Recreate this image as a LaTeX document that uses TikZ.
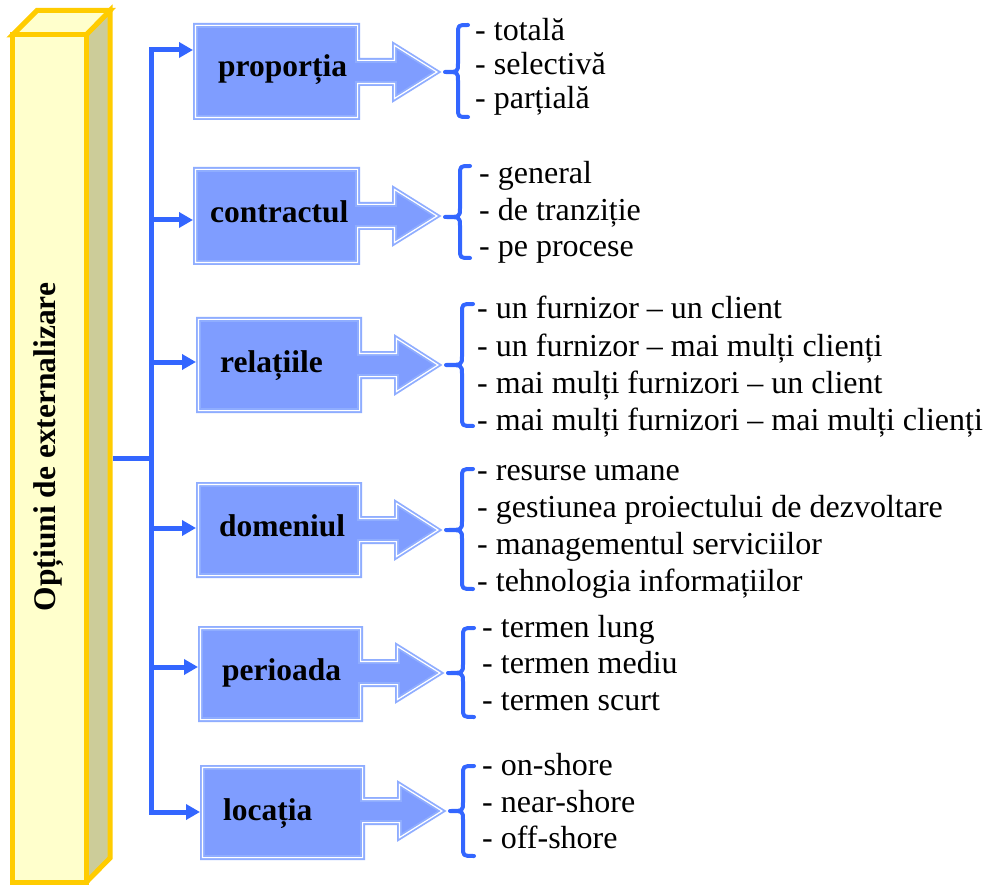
\documentclass[tikz,border=0pt]{standalone}
\usepackage{fontspec}
\setmainfont{Liberation Serif}
\usetikzlibrary{arrows.meta}

\definecolor{barline}{HTML}{FFCC00}
\definecolor{barfront}{HTML}{FFFFCC}
\definecolor{barside}{HTML}{CCCC99}
\definecolor{boxfill}{HTML}{7F9DFF}
\definecolor{boxedge}{HTML}{8FADFF}
\definecolor{linkblue}{HTML}{3366FF}

\tikzset{
  barstroke/.style={draw=barline, line width=5pt},
  calloutline/.style={fill=boxfill, draw=boxedge, double=white, double distance=1.2pt, line width=1.8pt},
  boxarea/.style={rectangle, inner sep=0pt, outer sep=0pt},
  lab/.style={font=\bfseries\fontsize{31.5}{36}\selectfont, inner sep=0pt, anchor=base west},
  item/.style={font=\fontsize{32}{36}\selectfont, inner sep=0pt, anchor=base west},
  conn/.style={draw=linkblue, line width=5pt},
  tipped/.style={conn, -{Triangle[length=14pt,width=15pt]}},
  bracestyle/.style={draw=linkblue, line width=4pt, line cap=round, line join=round},
}

% callout box: #1 left, #2 top, #3 right, #4 bottom (outer edges), #5 arrow axis, #6 tip, #7 name
\newcommand\callout[7]{%
  \draw[calloutline]
    ({#1+2.4},{#2+2.4}) -- ({#3-2.4},{#2+2.4}) -- ({#3-2.4},{#5-11.6})
    -- ({#3+34.4},{#5-11.6}) -- ({#3+34.4},{#5-26.6}) -- ({#6-5},{#5})
    -- ({#3+34.4},{#5+26.6}) -- ({#3+34.4},{#5+11.6}) -- ({#3-2.4},{#5+11.6})
    -- ({#3-2.4},{#4-2.4}) -- ({#1+2.4},{#4-2.4}) -- cycle;
  \node[boxarea, minimum width={#3pt-#1pt}, minimum height={#4pt-#2pt}]
    (#7) at ({(#1+#3)/2},{(#2+#4)/2}) {};
}

% curly brace: #1 stem x, #2 top, #3 bottom, #4 middle, #5 point x, #6 end x
\newcommand\itembrace[6]{%
  \draw[bracestyle] (#6,#2) .. controls (#1,#2) .. (#1,{#2+9})
    -- (#1,{#4-9}) .. controls (#1,#4) .. (#5,#4)
    .. controls (#1,#4) .. (#1,{#4+9})
    -- (#1,{#3-9}) .. controls (#1,#3) .. (#6,#3);
}

\begin{document}
\begin{tikzpicture}[x=1pt,y=-1pt]
\useasboundingbox (0,0) rectangle (988,885);
\fill[white] (0,0) rectangle (988,885);

% upright bar
\filldraw[barstroke, fill=barside] (86,35) -- (110,10.5) -- (110,858) -- (86,882.5) -- cycle;
\filldraw[barstroke, fill=barfront] (12.5,35) -- (37,10.5) -- (110,10.5) -- (86,35) -- cycle;
\filldraw[barstroke, fill=barfront] (12.5,35) rectangle (86,882.5);
\node[rotate=90, font=\bfseries\fontsize{31.5}{36}\selectfont, inner sep=0pt] (title) at (49,447) {Opțiuni de externalizare};
\coordinate (barjoin) at (112.5,458);

% callout boxes
\callout{193}{23}{360}{120}{72}{442}{b1}
\callout{193}{167}{360}{265}{216}{442}{b2}
\callout{196}{317}{362}{413}{365}{443}{b3}
\callout{196}{482}{362}{578}{530}{443}{b4}
\callout{198}{626}{363}{722}{673}{445}{b5}
\callout{200}{765}{365}{860}{811}{447}{b6}

\node[lab] (l1) at (218,77) {proporția};
\node[lab] (l2) at (210,223) {contractul};
\node[lab] (l3) at (220,372) {relațiile};
\node[lab] (l4) at (219,536) {domeniul};
\node[lab] (l5) at (222,680) {perioada};
\node[lab] (l6) at (223,820) {locația};

% tree connectors
\coordinate (s1) at (151,50);
\coordinate (s2) at (151,220);
\coordinate (s3) at (151,362);
\coordinate (s4) at (151,528);
\coordinate (s5) at (151,667);
\coordinate (s6) at (151,812);
\coordinate (s0) at (151,458);
\draw[conn] (barjoin) -- (s0);
\draw[tipped] (s6) -- (s1) -- (b1.west |- s1);
\draw[tipped] (s1) -- (s6) -- (b6.west |- s6);
\draw[tipped] (s2) -- (b2.west |- s2);
\draw[tipped] (s3) -- (b3.west |- s3);
\draw[tipped] (s4) -- (b4.west |- s4);
\draw[tipped] (s5) -- (b5.west |- s5);

% braces
\itembrace{458}{25}{117}{72}{445}{468}
\itembrace{460}{166}{258}{217}{445}{470}
\itembrace{462}{304}{426}{365}{446}{473}
\itembrace{462}{469}{589}{530}{446}{473}
\itembrace{463}{628}{717}{673}{448}{474}
\itembrace{463}{766}{856}{811}{450}{474}

% item lists
\foreach \t [count=\i] in {- totală, - selectivă, - parțială}
  \node[item] (g1-\i) at (475,{41+34*(\i-1)}) {\t};
\foreach \t [count=\i] in {- general, - de tranziție, - pe procese}
  \node[item] (g2-\i) at (479,{184+36.5*(\i-1)}) {\t};
\foreach \t [count=\i] in {- un furnizor – un client, - un furnizor – mai mulți clienți, - mai mulți furnizori – un client, - mai mulți furnizori – mai mulți clienți}
  \node[item] (g3-\i) at (477,{319+37*(\i-1)}) {\t};
\foreach \t [count=\i] in {- resurse umane, - gestiunea proiectului de dezvoltare, - managementul serviciilor, - tehnologia informațiilor}
  \node[item] (g4-\i) at (477,{480+37*(\i-1)}) {\t};
\foreach \t [count=\i] in {- termen lung, - termen mediu, - termen scurt}
  \node[item] (g5-\i) at (482,{637+36.5*(\i-1)}) {\t};
\foreach \t [count=\i] in {- on-shore, - near-shore, - off-shore}
  \node[item] (g6-\i) at (482,{775.5+36.5*(\i-1)}) {\t};
\end{tikzpicture}
\end{document}
